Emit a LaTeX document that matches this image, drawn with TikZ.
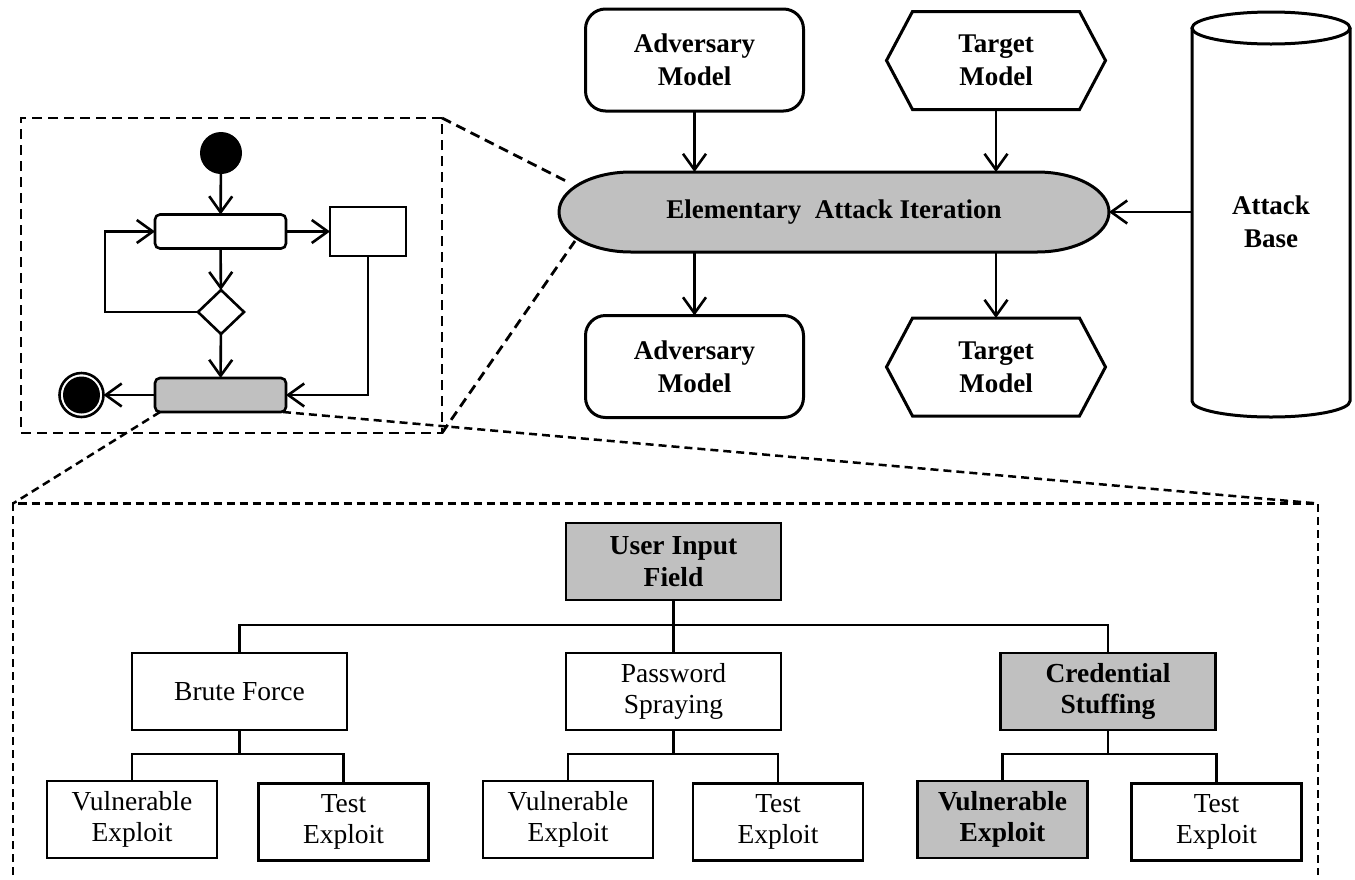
\documentclass[tikz,border=0pt]{standalone}
\usepackage{fontspec}
\setmainfont{Liberation Serif}
\newfontfamily\timesfont{Liberation Serif}
\usetikzlibrary{arrows.meta,shapes.geometric,calc,backgrounds}
\definecolor{boxgray}{RGB}{192,192,192}
\begin{document}
\begin{tikzpicture}[x=1pt,y=-1pt,
  every node/.style={inner sep=0pt, outer sep=0pt},
  toptext/.style={font=\timesfont\fontsize{27}{33}\selectfont\bfseries, align=center},
  treetext/.style={font=\timesfont\fontsize{27.5}{31.7}\selectfont, align=center},
  flow/.style={line width=2.6pt, -{Straight Barb[length=16pt,width=23pt]}},
  advbox/.style={toptext, rectangle, draw, line width=3pt, rounded corners=20pt,
    minimum width=218pt, minimum height=102pt},
  hexbox/.style={toptext, rectangle, minimum width=219pt, minimum height=98pt},
  hexline/.style={line width=3pt, line join=miter},
  actbox/.style={rectangle, draw, line width=2.6pt, rounded corners=5pt,
    minimum width=131pt, minimum height=34pt},
  objbox/.style={rectangle, draw, line width=2.6pt, minimum width=76pt, minimum height=49pt},
  decision/.style={diamond, draw, line width=2.6pt, minimum width=46pt, minimum height=44pt},
  zoomline/.style={line width=2.8pt, dash pattern=on 10pt off 6pt},
  framebox/.style={line width=2.5pt, dash pattern=on 8pt off 5pt},
  midbox/.style={treetext, rectangle, draw, line width=2.5pt, minimum width=215pt, minimum height=77pt},
  leafbox/.style={treetext, rectangle, draw, line width=2.5pt, minimum width=170pt, minimum height=77pt},
  keybox/.style={fill=boxgray, font=\timesfont\fontsize{27.5}{31.7}\selectfont\bfseries},
  tree/.style={line width=2.3pt}
]
\useasboundingbox (0,0) rectangle (1355,879);

% ---------- attack iteration ----------
\node[advbox] (advIn)  at (694.5,60)  {Adversary\\Model};
\node[hexbox] (tgtIn)  at (996,60.5)  {Target\\Model};
\node[toptext, minimum width=550pt, minimum height=80pt] (eai) at (834,212)
  {Elementary\ \ Attack\ Iteration};
\node[advbox] (advOut) at (694.5,366.5) {Adversary\\Model};
\node[hexbox] (tgtOut) at (996,367)   {Target\\Model};
\node[minimum width=158pt, minimum height=405pt] (base) at (1271,214.5) {};
\node[toptext] (baseTxt) at (1271,222) {Attack\\Base};

% stadium outline of the iteration
\begin{scope}[on background layer]
  \draw[fill=boxgray, line width=3pt]
    ([xshift=72pt]eai.north west) -- ([xshift=-72pt]eai.north east)
    arc[start angle=90, end angle=-90, x radius=72pt, y radius=40pt]
    -- ([xshift=72pt]eai.south west)
    arc[start angle=270, end angle=90, x radius=72pt, y radius=40pt] -- cycle;
\end{scope}

% hexagonal target models
\foreach \h in {tgtIn,tgtOut}{
  \draw[hexline] (\h.west) -- ([xshift=26pt]\h.north west) -- ([xshift=-26pt]\h.north east)
    -- (\h.east) -- ([xshift=-26pt]\h.south east) -- ([xshift=26pt]\h.south west) -- cycle;
}

% cylinder for the attack base
\draw[line width=3pt] ([yshift=-16pt]base.north) ellipse[x radius=79pt, y radius=16pt];
\draw[line width=3pt] ([yshift=-16pt]base.north west) -- ([yshift=16pt]base.south west)
  arc[start angle=180, end angle=360, x radius=79pt, y radius=16pt]
  -- ([yshift=-16pt]base.north east);

\draw[flow] (advIn.south) -- (advIn.south |- eai.north);
\draw[flow] (tgtIn.south) -- (tgtIn.south |- eai.north);
\draw[flow] (eai.south -| advOut.north) -- (advOut.north);
\draw[flow] (eai.south -| tgtOut.north) -- (tgtOut.north);
\draw[flow] (base.west |- eai.east) -- (eai.east);

% ---------- activity detail ----------
\node[draw, zoomline, minimum width=421pt, minimum height=315pt] (frame) at (231.5,275.5) {};
\node[circle, fill=black, minimum size=42pt] (init) at (221,153) {};
\node[actbox] (act1) at (220.5,231.5) {};
\node[objbox] (obj) at (368,231.5) {};
\node[decision] (dec) at (221,312) {};
\node[actbox, fill=boxgray] (act2) at (220.5,395) {};
\node[circle, draw, line width=2.6pt, minimum size=44pt,
  path picture={\fill[black] (path picture bounding box.center) circle[radius=18.5pt];}]
  (fin) at (81.5,395) {};

\draw[flow] (init) -- (act1);
\draw[flow] (act1) -- (obj);
\draw[flow] (act1) -- (dec);
\draw[flow] (dec.west) -- ++(-93pt,0) |- (act1.west);
\draw[flow] (dec) -- (act2);
\draw[flow] (obj.south) |- (act2.east);
\draw[flow] (act2) -- (fin);

% zoom guides towards the iteration
\coordinate (zUp) at (566,181);
\coordinate (zLo) at (575,241);
\draw[zoomline] (frame.north east) -- (zUp);
\draw[zoomline] (frame.south east) -- (zLo);

% ---------- attack tree ----------
\coordinate (bfNW) at (13,503.5);
\coordinate (bfNE) at (1318,503.5);
\draw[framebox] (bfNW) ++(0,371.5) -- (bfNW) -- (bfNE) -- ++(0,371.5);
\draw[framebox] ([xshift=5pt]act2.south west) -- (bfNW);
\draw[framebox] ([xshift=-3pt]act2.south east) -- (bfNE);

\node[midbox, keybox] (root) at (673.5,561.5) {User Input\\Field};
\node[midbox] (bf) at (239.5,691.5) {Brute Force};
\node[midbox] (ps) at (673.5,691.5) {Password\\Spraying};
\node[midbox, keybox] (cs) at (1108,691.5) {Credential\\Stuffing};

\node[leafbox] (bfv) at (132,819.5) {Vulnerable\\Exploit};
\node[leafbox] (bft) at (343.5,822) {Test\\Exploit};
\node[leafbox] (psv) at (568,819.5) {Vulnerable\\Exploit};
\node[leafbox] (pst) at (778,822) {Test\\Exploit};
\node[leafbox, keybox] (csv) at (1002.5,819.5) {Vulnerable\\Exploit};
\node[leafbox] (cst) at (1216.5,822) {Test\\Exploit};

\coordinate (j0) at ($(root.south)!0.47!(ps.north)$);
\draw[tree] (root.south) -- (ps.north);
\draw[tree] (bf.north) |- (j0) -| (cs.north);

\foreach \p/\a/\b in {bf/bfv/bft, ps/psv/pst, cs/csv/cst}{
  \coordinate (j\p) at ($(\p.south)!0.47!(\p.south |- \a.north)$);
  \draw[tree] (\p.south) -- (j\p);
  \draw[tree] (\a.north) |- (j\p) -| (\b.north);
}
\end{tikzpicture}
\end{document}
